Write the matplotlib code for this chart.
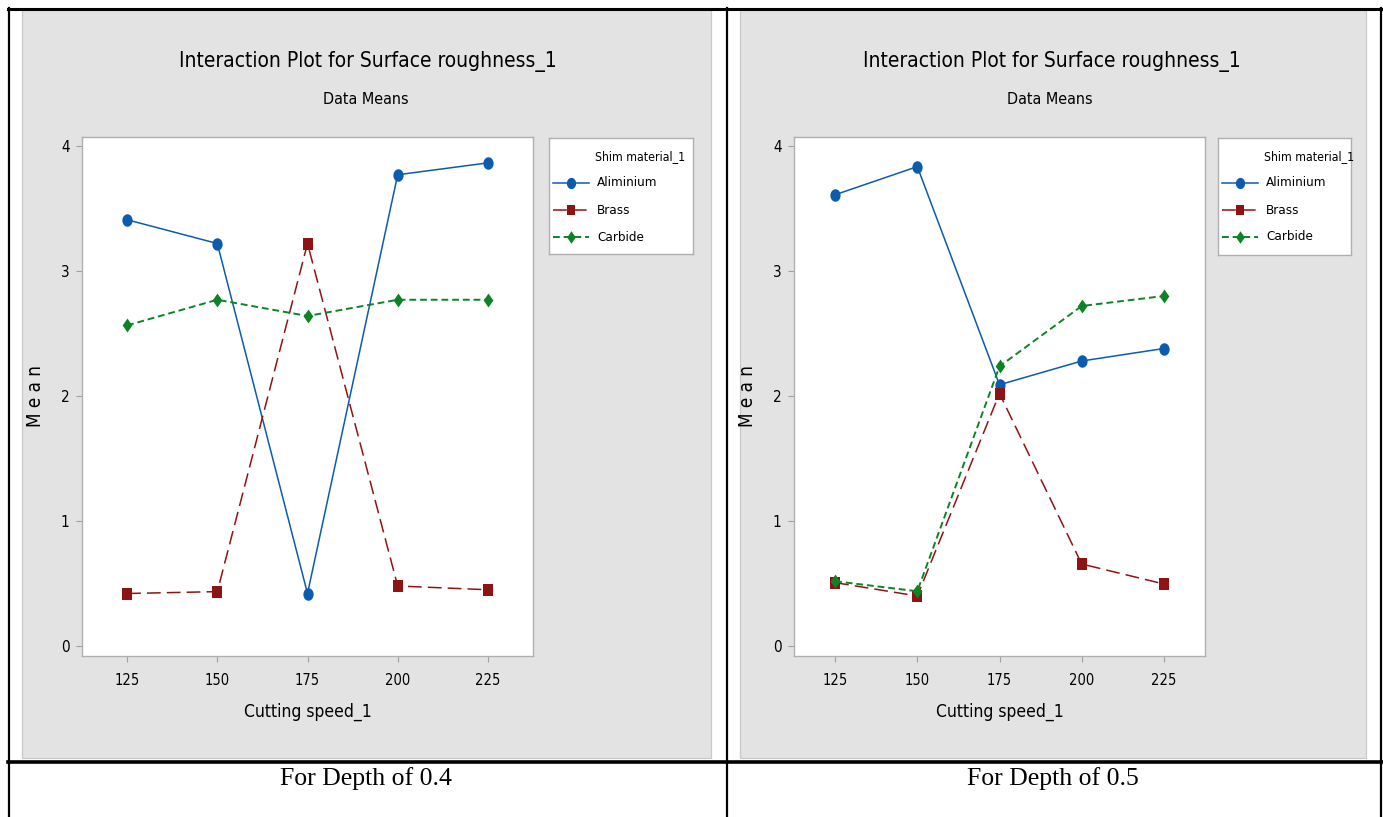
import numpy as np
import matplotlib
matplotlib.use("Agg")
import matplotlib.pyplot as plt
from matplotlib.patches import Rectangle
from matplotlib.lines import Line2D
from matplotlib import font_manager
from matplotlib.font_manager import FontProperties

speeds = [125, 150, 175, 200, 225]
materials = ["Aliminium", "Brass", "Carbide"]

# depth 0.4
alu_04 = [3.41, 3.22, 0.42, 3.77, 3.865]
brass_04 = [0.42, 0.435, 3.22, 0.48, 0.45]
carbide_04 = [2.565, 2.77, 2.64, 2.77, 2.77]

# depth 0.5
alu_05 = [3.61, 3.835, 2.09, 2.28, 2.38]
brass_05 = [0.507, 0.40, 2.02, 0.656, 0.496]
carbide_05 = [0.518, 0.438, 2.237, 2.72, 2.80]

captions = ["For Depth of 0.4", "For Depth of 0.5"]


def find_font(keys):
    files = [f.fname for f in font_manager.fontManager.ttflist]
    for k in keys:
        for fn in files:
            if fn.split("/")[-1] == k:
                return fn
    return None


narrow_file = find_font(["LiberationSansNarrow-Regular.ttf", "DejaVuSansCondensed.ttf"])
serif_file = find_font(["LiberationSerif-Regular.ttf", "DejaVuSerifCondensed.ttf"])


def fp(size, fname):
    if fname:
        return FontProperties(fname=fname, size=size)
    return FontProperties(family="DejaVu Sans", stretch="condensed", size=size)


# slightly tall marker outlines
_t = np.linspace(0, 2 * np.pi, 41)
tall_circle = list(zip(0.82 * np.cos(_t), np.sin(_t)))
tall_square = [(-0.85, -1), (0.85, -1), (0.85, 1), (-0.85, 1), (-0.85, -1)]
tall_diamond = [(0, -1), (0.7, 0), (0, 1), (-0.7, 0), (0, -1)]

W, H = 1383, 817
fig = plt.figure(figsize=(W / 100, H / 100), dpi=100)


def fx(x):
    return x / W


def fy(y):
    return 1 - y / H


def rect(x0, y0, x1, y1):
    return [fx(x0), fy(y1), fx(x1) - fx(x0), fy(y0) - fy(y1)]


styles = [
    dict(color="#0b5cad", ls="-", lw=1.1, marker=tall_circle, ms=9.0),
    dict(color="#8e1414", ls=(0, (9, 4)), lw=1.1, marker=tall_square, ms=8.4),
    dict(color="#0d8424", ls=(0, (3.5, 2)), lw=1.4, marker=tall_diamond, ms=10.0),
]

panels = [
    dict(gray=(22, 10, 711, 758), ax=(82, 137, 533, 656), leg=(549, 138, 693, 254),
         series=[alu_04, brass_04, carbide_04], cap=captions[0], capx=366, tx=368),
    dict(gray=(740, 10, 1366, 758), ax=(794, 137, 1205, 656), leg=(1218, 138, 1351, 255),
         series=[alu_05, brass_05, carbide_05], cap=captions[1], capx=1053, tx=1052),
]

for p in panels:
    gx0, gy0, gx1, gy1 = p["gray"]
    fig.patches.append(Rectangle((fx(gx0), fy(gy1)), fx(gx1) - fx(gx0), fy(gy0) - fy(gy1),
                                 transform=fig.transFigure, facecolor="#e3e3e3",
                                 edgecolor="#c8c8c8", lw=0.9, zorder=-5))
    ax = fig.add_axes(rect(*p["ax"]))
    ax.set_zorder(2)
    ax.set_facecolor("white")
    xs = list(range(len(speeds)))
    for vals, st, name in zip(p["series"], styles, materials):
        ax.plot(xs, vals, color=st["color"], ls=st["ls"], lw=st["lw"],
                marker=st["marker"], ms=st["ms"], markeredgewidth=0,
                label=name)
    ax.set_xlim(-0.5, len(speeds) - 0.5)
    ax.set_ylim(-0.08, 4.072)
    ax.set_xticks(xs)
    ax.set_xticklabels([str(s) for s in speeds], fontproperties=fp(10.5, narrow_file))
    ax.set_yticks([0, 1, 2, 3, 4])
    ax.set_yticklabels(["0", "1", "2", "3", "4"], fontproperties=fp(11, narrow_file))
    ax.tick_params(axis="x", length=4, color="#a0a0a0", width=0.8, pad=8)
    ax.tick_params(axis="y", length=4, color="#a0a0a0", width=0.8, pad=5)
    for s in ax.spines.values():
        s.set_color("#b0b0b0")
        s.set_linewidth(1.0)
    ax.set_xlabel("Cutting speed_1", fontproperties=fp(12.5, narrow_file), labelpad=11)
    ax.set_ylabel("M e a n", fontproperties=fp(13.5, narrow_file), labelpad=11)

    fig.text(fx(p["tx"]), fy(62), "Interaction Plot for Surface roughness_1",
             fontproperties=fp(15, narrow_file), ha="center", va="center")
    fig.text(fx(p["tx"] - 2), fy(99), "Data Means", fontproperties=fp(11.5, narrow_file),
             ha="center", va="center")

    lx0, ly0, lx1, ly1 = p["leg"]
    lax = fig.add_axes(rect(lx0, ly0, lx1, ly1))
    lax.set_zorder(2)
    lax.set_xlim(lx0, lx1)
    lax.set_ylim(ly1, ly0)
    lax.set_xticks([])
    lax.set_yticks([])
    for s in lax.spines.values():
        s.set_color("#b0b0b0")
        s.set_linewidth(1.0)
    lax.text(lx0 + 46, ly0 + 19, "Shim material_1", fontproperties=fp(8.8, narrow_file),
             va="center", ha="left")
    for i, (st, name) in enumerate(zip(styles, materials)):
        yy = ly0 + 45 + i * 27
        lax.plot([lx0 + 4, lx0 + 40], [yy, yy], color=st["color"], ls=st["ls"], lw=st["lw"])
        lax.plot([lx0 + 22], [yy], color=st["color"], marker=st["marker"], ms=st["ms"] * 0.9,
                 markeredgewidth=0)
        lax.text(lx0 + 48, yy, name, fontproperties=fp(9.6, narrow_file), va="center", ha="left")

    fig.text(fx(p["capx"]), fy(779), p["cap"], fontproperties=fp(18.5, serif_file),
             ha="center", va="center")

# table rules
line_kw = dict(transform=fig.transFigure, color="black")
fig.lines.append(Line2D([fx(8), fx(1383)], [fy(9), fy(9)], lw=2.2, **line_kw))
fig.lines.append(Line2D([fx(8), fx(1383)], [fy(762), fy(762)], lw=2.6, **line_kw))
for xv in (9, 727, 1381):
    fig.lines.append(Line2D([fx(xv), fx(xv)], [fy(8), fy(817)], lw=1.6, **line_kw))

fig.savefig("out.png", dpi=100)
